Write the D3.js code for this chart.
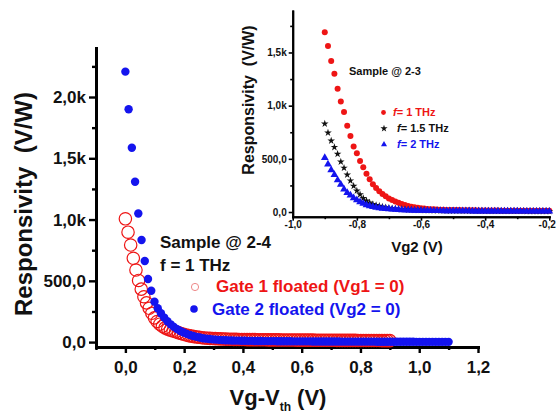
<!DOCTYPE html>
<html>
<head>
<meta charset="utf-8">
<script src="https://cdn.jsdelivr.net/npm/d3@7"></script>
<style>
  html, body { margin: 0; padding: 0; background: #fff; }
  svg { display: block; font-family: "Liberation Sans", Arial, sans-serif; font-weight: bold; }
</style>
</head>
<body>
<svg id="viewport" width="556" height="414"></svg>
<script>
// main plot: Gate 1 floated (open red circles), Vg - Vth in V
const gate1X = [
  0, 0.009, 0.018, 0.027, 0.036, 0.045, 0.054, 0.063, 0.072, 0.081,
  0.09, 0.099, 0.108, 0.117, 0.126, 0.135, 0.144, 0.153, 0.162, 0.171,
  0.18, 0.189, 0.198, 0.207, 0.216, 0.225, 0.234, 0.243, 0.252, 0.261,
  0.27, 0.279, 0.288, 0.297, 0.306, 0.315, 0.324, 0.333, 0.342, 0.351,
  0.36, 0.369, 0.378, 0.387, 0.396, 0.405, 0.414, 0.423, 0.432, 0.441,
  0.45, 0.459, 0.468, 0.477, 0.486, 0.495, 0.504, 0.513, 0.522, 0.531,
  0.54, 0.549, 0.558, 0.567, 0.576, 0.585, 0.594, 0.603, 0.612, 0.621,
  0.63, 0.639, 0.648, 0.657, 0.666, 0.675, 0.684, 0.693, 0.702, 0.711,
  0.72, 0.729, 0.738, 0.747, 0.756, 0.765, 0.774, 0.783, 0.792, 0.801,
  0.81, 0.819, 0.828, 0.837, 0.846, 0.855, 0.864, 0.873, 0.882, 0.891,
  0.9
];
const gate1Y = [
  1006, 897, 792, 684, 588, 503, 432, 370, 320, 276,
  235, 198, 168, 146, 129, 116, 106, 98, 91, 84,
  77, 70, 64, 58, 53, 49, 45, 42, 39, 36,
  34, 32, 30, 29, 28, 27, 26, 25, 24, 23,
  23, 22, 22, 21, 21, 21, 20, 20, 20, 20,
  19, 19, 19, 19, 18, 18, 18, 18, 18, 17,
  17, 17, 17, 17, 17, 16, 16, 16, 16, 16,
  16, 16, 15, 15, 15, 15, 15, 15, 15, 15,
  14, 14, 14, 14, 14, 14, 14, 14, 13, 13,
  13, 13, 13, 13, 13, 13, 13, 12, 12, 12,
  12
];
// main plot: Gate 2 floated (filled blue dots)
const gate2X = [
  0, 0.011, 0.022, 0.033, 0.044, 0.055, 0.066, 0.077, 0.088, 0.099,
  0.11, 0.121, 0.132, 0.143, 0.154, 0.165, 0.176, 0.187, 0.198, 0.209,
  0.22, 0.231, 0.242, 0.253, 0.264, 0.275, 0.286, 0.297, 0.308, 0.319,
  0.33, 0.341, 0.352, 0.363, 0.374, 0.385, 0.396, 0.407, 0.418, 0.429,
  0.44, 0.451, 0.462, 0.473, 0.484, 0.495, 0.506, 0.517, 0.528, 0.539,
  0.55, 0.561, 0.572, 0.583, 0.594, 0.605, 0.616, 0.627, 0.638, 0.649,
  0.66, 0.671, 0.682, 0.693, 0.704, 0.715, 0.726, 0.737, 0.748, 0.759,
  0.77, 0.781, 0.792, 0.803, 0.814, 0.825, 0.836, 0.847, 0.858, 0.869,
  0.88, 0.891, 0.902, 0.913, 0.924, 0.935, 0.946, 0.957, 0.968, 0.979,
  0.99, 1.001, 1.012, 1.023, 1.034, 1.045, 1.056, 1.067, 1.078, 1.089,
  1.1
];
const gate2Y = [
  2207, 1900, 1586, 1309, 1049, 833, 662, 515, 419, 330,
  276, 235, 200, 170, 145, 124, 106, 91, 78, 67,
  58, 50, 43, 37, 32, 28, 25, 22, 20, 18,
  16, 15, 14, 13, 12, 12, 11, 11, 10, 10,
  9, 9, 9, 8, 8, 8, 8, 7, 7, 7,
  7, 7, 6, 6, 6, 6, 6, 6, 5, 5,
  5, 5, 5, 5, 5, 5, 5, 4, 4, 4,
  4, 4, 4, 4, 4, 4, 4, 4, 3, 3,
  3, 3, 3, 3, 3, 3, 3, 3, 3, 3,
  2, 2, 2, 2, 2, 2, 2, 2, 2, 2,
  2
];

// inset: Vg2 in V, shared by the three frequencies
const insetX = [
  -0.90, -0.89, -0.88, -0.87, -0.86, -0.85, -0.84, -0.83, -0.82, -0.81,
  -0.80, -0.79, -0.78, -0.77, -0.76, -0.75, -0.74, -0.73, -0.72, -0.71,
  -0.70, -0.69, -0.68, -0.67, -0.66, -0.65, -0.64, -0.63, -0.62, -0.61,
  -0.60, -0.59, -0.58, -0.57, -0.56, -0.55, -0.54, -0.53, -0.52, -0.51,
  -0.50, -0.49, -0.48, -0.47, -0.46, -0.45, -0.44, -0.43, -0.42, -0.41,
  -0.40, -0.39, -0.38, -0.37, -0.36, -0.35, -0.34, -0.33, -0.32, -0.31,
  -0.30, -0.29, -0.28, -0.27, -0.26, -0.25, -0.24, -0.23, -0.22, -0.21,
  -0.20
];
const f1Y = [
  1690, 1560, 1420, 1300, 1160, 1040, 940, 810, 715, 615,
  552, 480, 420, 360, 308, 262, 226, 196, 170, 148,
  128, 112, 98, 86, 75, 65, 57, 50, 44, 39,
  35, 32, 29, 27, 25, 23, 22, 21, 20, 19,
  19, 18, 18, 17, 17, 16, 16, 16, 15, 15,
  15, 14, 14, 14, 14, 13, 13, 13, 13, 13,
  12, 12, 12, 12, 12, 12, 11, 11, 11, 11,
  11
];
const f15Y = [
  830, 745, 670, 610, 545, 473, 415, 350, 295, 245,
  200, 165, 130, 105, 88, 74, 64, 56, 49, 43,
  38, 34, 31, 28, 26, 24, 22, 21, 20, 19,
  18, 17, 16, 16, 15, 15, 14, 14, 13, 13,
  13, 12, 12, 12, 12, 11, 11, 11, 11, 11,
  10, 10, 10, 10, 10, 10, 9, 9, 9, 9,
  9, 9, 9, 8, 8, 8, 8, 8, 8, 8,
  8
];
const f2Y = [
  510, 450, 395, 350, 300, 258, 215, 182, 158, 132,
  113, 95, 80, 67, 57, 49, 43, 38, 34, 31,
  28, 25, 23, 21, 19, 18, 17, 16, 15, 14,
  13, 13, 12, 12, 11, 11, 11, 10, 10, 10,
  10, 9, 9, 9, 9, 9, 8, 8, 8, 8,
  8, 8, 8, 7, 7, 7, 7, 7, 7, 7,
  7, 6, 6, 6, 6, 6, 6, 6, 6, 6,
  6
];

const mainXTicks = [0, 0.2, 0.4, 0.6, 0.8, 1.0, 1.2];
const mainXMinor = [-0.1, 0.1, 0.3, 0.5, 0.7, 0.9, 1.1];
const mainYTicks = [0, 500, 1000, 1500, 2000];
const mainYMinor = [250, 750, 1250, 1750, 2250];
const insetXTicks = [-1.0, -0.8, -0.6, -0.4, -0.2];
const insetXMinor = [-0.9, -0.7, -0.5, -0.3];
const insetYTicks = [0, 500, 1000, 1500];
const insetYMinor = [250, 750, 1250, 1750];

const red = '#ee1515';
const blue = '#1414ee';

const svg = d3.select('#viewport');

// "0,2" / "1,5k" style labels, comma as decimal mark
const fmtNum = (d) => d.toFixed(1).replace('.', ',');
const fmtK = (d) => (Math.abs(d) >= 1000 ? fmtNum(d / 1000) + 'k' : fmtNum(d));

const zip = (xs, ys) => xs.map((x, i) => ({ x, y: ys[i] }));

function styleAxis(g, lineWidth, fontSize) {
  g.select('.domain').attr('stroke-width', lineWidth).attr('stroke-linecap', 'square');
  g.selectAll('.tick line').attr('stroke-width', lineWidth * 0.8);
  g.selectAll('.tick text')
    .style('font-size', fontSize + 'px')
    .style('font-weight', 'bold')
    .style('font-family', '"Liberation Sans", Arial, sans-serif')
    .attr('fill', '#111');
}

// ---------- main plot ----------
const x = d3.scaleLinear().domain([-0.1, 1.2]).range([96, 478]);
const y = d3.scaleLinear().domain([-40, 2400]).range([347, 48]);

const main = svg.append('g').attr('class', 'main');

main.append('g')
  .attr('transform', 'translate(0,347)')
  .call(d3.axisBottom(x).tickValues(mainXMinor).tickSize(3).tickSizeOuter(0).tickFormat(''))
  .call((g) => styleAxis(g, 3, 17));
main.append('g')
  .attr('transform', 'translate(0,347)')
  .call(d3.axisBottom(x).tickValues(mainXTicks).tickSize(6).tickSizeOuter(0).tickPadding(8).tickFormat(fmtNum))
  .call((g) => styleAxis(g, 3, 17));

main.append('g')
  .attr('transform', 'translate(96,0)')
  .call(d3.axisLeft(y).tickValues(mainYMinor).tickSize(4).tickSizeOuter(0).tickFormat(''))
  .call((g) => styleAxis(g, 3, 17));
main.append('g')
  .attr('transform', 'translate(96,0)')
  .call(d3.axisLeft(y).tickValues(mainYTicks).tickSize(7).tickSizeOuter(0).tickPadding(3).tickFormat(fmtK))
  .call((g) => styleAxis(g, 3, 17));

main.append('g')
  .selectAll('circle')
  .data(zip(gate1X, gate1Y))
  .join('circle')
  .attr('cx', (d) => x(d.x))
  .attr('cy', (d) => y(d.y))
  .attr('r', 6.2)
  .attr('fill', 'none')
  .attr('stroke', red)
  .attr('stroke-width', 1.2);

main.append('g')
  .selectAll('circle')
  .data(zip(gate2X, gate2Y))
  .join('circle')
  .attr('cx', (d) => x(d.x))
  .attr('cy', (d) => y(d.y))
  .attr('r', 4.2)
  .attr('fill', blue);

// axis titles
main.append('text')
  .attr('transform', 'translate(32,204) rotate(-90)')
  .attr('text-anchor', 'middle')
  .style('font-size', '24px')
  .attr('fill', '#111')
  .attr('xml:space', 'preserve')
  .text('Responsivity  (V/W)');

const xTitle = main.append('text')
  .attr('x', 278)
  .attr('y', 405)
  .attr('text-anchor', 'middle')
  .style('font-size', '22px')
  .attr('fill', '#111');
xTitle.append('tspan').text('Vg-V');
xTitle.append('tspan').attr('dy', 6).style('font-size', '12px').text('th');
xTitle.append('tspan').attr('dy', -6).text(' (V)');

// annotations and legend
main.append('text').attr('x', 160).attr('y', 248).style('font-size', '17px').attr('fill', '#111')
  .text('Sample @ 2-4');
main.append('text').attr('x', 160).attr('y', 271).style('font-size', '17px').attr('fill', '#111')
  .text('f = 1 THz');

main.append('circle').attr('cx', 195).attr('cy', 287).attr('r', 3.6)
  .attr('fill', 'none').attr('stroke', '#e88').attr('stroke-width', 1);
main.append('text').attr('x', 216).attr('y', 292).style('font-size', '17px').attr('fill', red)
  .text('Gate 1 floated (Vg1 = 0)');
main.append('circle').attr('cx', 194).attr('cy', 309).attr('r', 3.8).attr('fill', blue);
main.append('text').attr('x', 212).attr('y', 315).style('font-size', '17px').attr('fill', blue)
  .text('Gate 2 floated (Vg2 = 0)');

// ---------- inset ----------
const ix = d3.scaleLinear().domain([-1.0, -0.2]).range([292.7, 549.3]);
const iy = d3.scaleLinear().domain([-44, 1890]).range([216.7, 11]);

const inset = svg.append('g').attr('class', 'inset');

inset.append('g')
  .attr('transform', 'translate(0,216.7)')
  .call(d3.axisBottom(ix).tickValues(insetXMinor).tickSize(2.5).tickSizeOuter(0).tickFormat(''))
  .call((g) => styleAxis(g, 2, 10));
inset.append('g')
  .attr('transform', 'translate(0,216.7)')
  .call(d3.axisBottom(ix).tickValues(insetXTicks).tickSize(4).tickSizeOuter(0).tickPadding(0).tickFormat(fmtNum))
  .call((g) => styleAxis(g, 2, 10))
  // last label sits at the picture's right edge: keep it inside
  .call((g) => g.selectAll('.tick text').filter((d) => d === -0.2)
    .attr('text-anchor', 'end').attr('x', 6));
inset.append('g')
  .attr('transform', 'translate(292.7,0)')
  .call(d3.axisLeft(iy).tickValues(insetYMinor).tickSize(2.5).tickSizeOuter(0).tickFormat(''))
  .call((g) => styleAxis(g, 2, 10));
inset.append('g')
  .attr('transform', 'translate(292.7,0)')
  .call(d3.axisLeft(iy).tickValues(insetYTicks).tickSize(4).tickSizeOuter(0).tickPadding(2).tickFormat(fmtK))
  .call((g) => styleAxis(g, 2, 10));

inset.append('g')
  .selectAll('circle')
  .data(zip(insetX, f1Y))
  .join('circle')
  .attr('cx', (d) => ix(d.x))
  .attr('cy', (d) => iy(d.y))
  .attr('r', 3)
  .attr('fill', red);

const star = d3.symbol().type(d3.symbolStar).size(18);
inset.append('g')
  .selectAll('path')
  .data(zip(insetX, f15Y))
  .join('path')
  .attr('transform', (d) => `translate(${ix(d.x)},${iy(d.y)})`)
  .attr('d', star)
  .attr('fill', '#111');

const tri = d3.symbol().type(d3.symbolTriangle).size(26);
inset.append('g')
  .selectAll('path')
  .data(zip(insetX, f2Y))
  .join('path')
  .attr('transform', (d) => `translate(${ix(d.x)},${iy(d.y)})`)
  .attr('d', tri)
  .attr('fill', blue);

inset.append('text')
  .attr('transform', 'translate(254,100) rotate(-90)')
  .attr('text-anchor', 'middle')
  .style('font-size', '16px')
  .attr('fill', '#111')
  .attr('xml:space', 'preserve')
  .text('Responsivity  (V/W)');
inset.append('text')
  .attr('x', 417)
  .attr('y', 252)
  .attr('text-anchor', 'middle')
  .style('font-size', '15px')
  .attr('fill', '#111')
  .text('Vg2 (V)');

inset.append('text').attr('x', 349).attr('y', 75).style('font-size', '11px').attr('fill', '#111')
  .text('Sample @ 2-3');

// inset legend: marker, italic f, rest of label
const insetLegend = [
  { label: '= 1 THz', colour: red, shape: 'dot', tx: 393, ty: 116 },
  { label: '= 1.5 THz', colour: '#111', shape: 'star', tx: 397, ty: 132 },
  { label: '= 2 THz', colour: blue, shape: 'tri', tx: 397, ty: 148 },
];
insetLegend.forEach((d) => {
  const my = d.ty - 3.5;
  if (d.shape === 'dot') {
    inset.append('circle').attr('cx', 383.5).attr('cy', my).attr('r', 2.4).attr('fill', d.colour);
  } else {
    inset.append('path')
      .attr('transform', `translate(384,${my})`)
      .attr('d', d3.symbol().type(d.shape === 'star' ? d3.symbolStar : d3.symbolTriangle).size(16))
      .attr('fill', d.colour);
  }
  const t = inset.append('text').attr('x', d.tx).attr('y', d.ty)
    .style('font-size', '11px').attr('fill', d.colour);
  t.append('tspan').style('font-style', 'italic').text('f');
  t.append('tspan').text(d.label);
});
</script>
</body>
</html>
